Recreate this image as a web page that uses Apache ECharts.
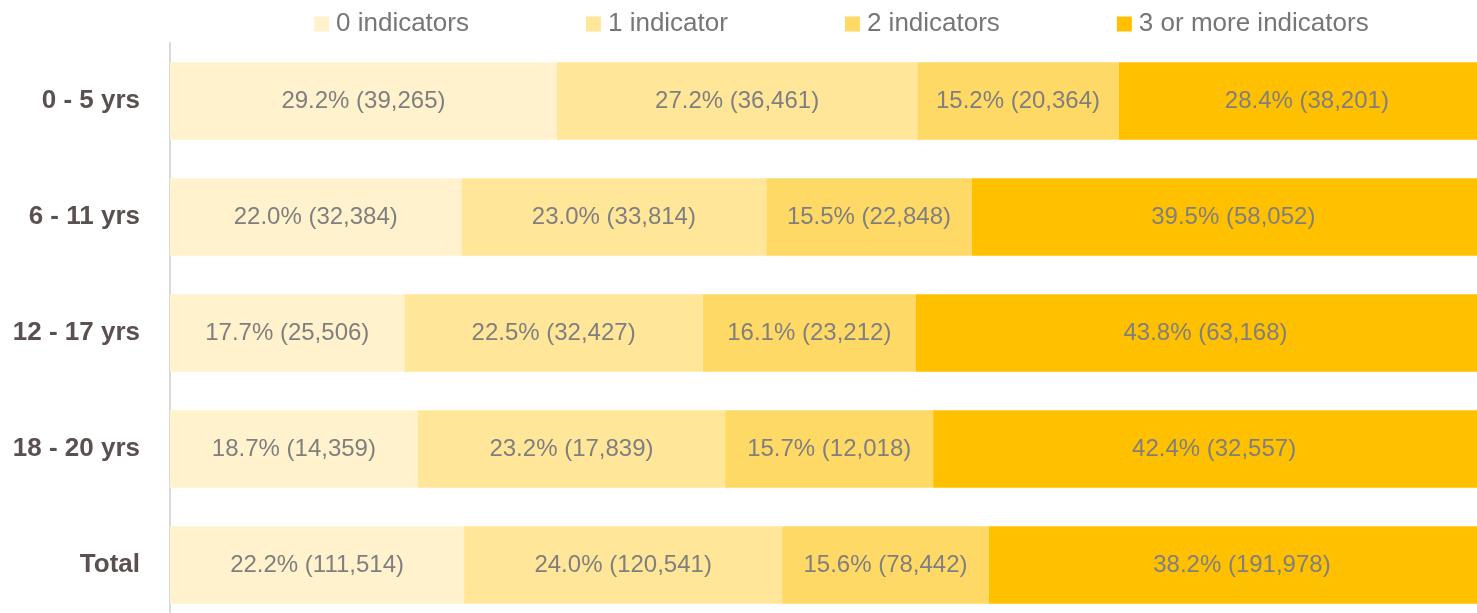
<!DOCTYPE html>
<html>
<head>
<meta charset="utf-8">
<script src="https://cdn.jsdelivr.net/npm/echarts@6/dist/echarts.min.js"></script>
<style>
    html, body { margin: 0; padding: 0; background: #fff; }
    #chart { width: 1477px; height: 613px; }
</style>
</head>
<body>
<div id="chart"></div>
<script>
    // 年龄组
    const categories = ['0 - 5 yrs', '6 - 11 yrs', '12 - 17 yrs', '18 - 20 yrs', 'Total'];
    const seriesNames = ['0 indicators', '1 indicator', '2 indicators', '3 or more indicators'];

    // 百分比
    const pct0 = [29.2, 22.0, 17.7, 18.7, 22.2];
    const pct1 = [27.2, 23.0, 22.5, 23.2, 24.0];
    const pct2 = [15.2, 15.5, 16.1, 15.7, 15.6];
    const pct3 = [28.4, 39.5, 43.8, 42.4, 38.2];

    // 人数
    const count0 = [39265, 32384, 25506, 14359, 111514];
    const count1 = [36461, 33814, 32427, 17839, 120541];
    const count2 = [20364, 22848, 23212, 12018, 78442];
    const count3 = [38201, 58052, 63168, 32557, 191978];

    const colors = ['#fff2cc', '#ffe699', '#ffd966', '#ffc000'];
    const font = '"Liberation Sans Narrow", "Liberation Sans", Arial, sans-serif';

    const chart = echarts.init(document.getElementById('chart'));

    function makeSeries(name, pcts, counts, color) {
        return {
            name: name,
            type: 'bar',
            stack: 'total',
            barCategoryGap: '33%',
            data: pcts,
            itemStyle: { color: color },
            label: {
                show: true,
                position: 'inside',
                color: '#7f7f7f',
                fontFamily: font,
                fontSize: 24,
                padding: [5, 0, 0, 0],
                formatter: (p) => p.value.toFixed(1) + '% (' + counts[p.dataIndex].toLocaleString('en-US') + ')'
            },
            emphasis: { disabled: true }
        };
    }

    chart.setOption({
        animation: false,
        legend: {
            top: 6,
            left: 309,
            itemWidth: 15,
            itemHeight: 15,
            itemGap: 117,
            icon: 'rect',
            textStyle: { color: '#767676', fontFamily: font, fontSize: 26, padding: [0, 0, 0, 2] },
            data: seriesNames
        },
        grid: {
            left: 170,
            top: 43,
            width: 1325,
            height: 580,
            outerBoundsMode: 'none'
        },
        xAxis: {
            type: 'value',
            min: 0,
            max: 100,
            show: false
        },
        yAxis: {
            type: 'category',
            inverse: true,
            data: categories,
            axisTick: { show: false },
            axisLine: { show: true, lineStyle: { color: '#d9d9d9', width: 2 } },
            axisLabel: {
                color: '#5a5050',
                fontFamily: font,
                fontWeight: 'bold',
                fontSize: 26,
                margin: 30,
                padding: [5, 0, 0, 0]
            }
        },
        series: [
            makeSeries(seriesNames[0], pct0, count0, colors[0]),
            makeSeries(seriesNames[1], pct1, count1, colors[1]),
            makeSeries(seriesNames[2], pct2, count2, colors[2]),
            makeSeries(seriesNames[3], pct3, count3, colors[3])
        ]
    });
</script>
</body>
</html>
